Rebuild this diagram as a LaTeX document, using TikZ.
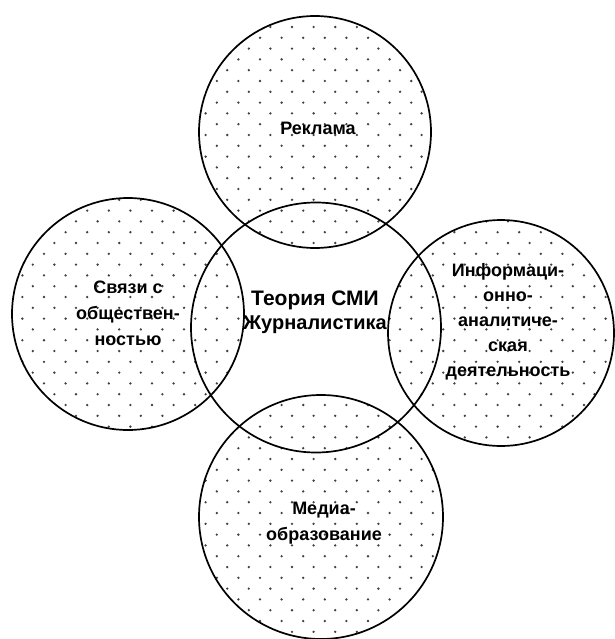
\documentclass[tikz,border=0pt]{standalone}
\usepackage{fontspec}
\setmainfont{Liberation Sans}
\tikzset{
  ring/.style={circle, draw=black, line width=1.7pt, inner sep=0pt, outer sep=0pt},
  dotc/.style={fill=black!75},
  outerlabel/.style={align=center, font=\bfseries\fontsize{18}{26}\selectfont, inner sep=0pt},
  mainlabel/.style={align=center, font=\bfseries\fontsize{21}{24}\selectfont, inner sep=0pt}
}
\newcommand\dotdisc[3]{%
  \begin{scope}
    \clip (#1,#2) circle[radius=#3pt];
    \pgfmathtruncatemacro\ia{(#2-#3-5.4)/10.8-1}
    \pgfmathtruncatemacro\ib{(#2+#3-5.4)/10.8+1}
    \pgfmathtruncatemacro\ja{(#1-#3)/21.6-1}
    \pgfmathtruncatemacro\jb{(#1+#3)/21.6+1}
    \foreach \i in {\ia,...,\ib}{
      \foreach \j in {\ja,...,\jb}{
        \pgfmathsetmacro\xx{\j*21.6+0.8+10.4*(1-mod(\i,2))}
        \pgfmathsetmacro\yy{5.4+\i*10.8}
        \fill[dotc] (\xx,\yy) circle[radius=1.3pt];
      }
    }
  \end{scope}}
\begin{document}
\begin{tikzpicture}[x=1pt,y=-1pt]
\useasboundingbox (0,0) rectangle (614,639);
% dotted fills of the outer circles
\dotdisc{315}{132}{116}
\dotdisc{128}{314}{116}
\dotdisc{501}{333}{113}
\dotdisc{321}{517}{122}
% outlines
\node[ring, minimum size=250pt] (c) at (316,327.5) {};
\node[ring, minimum size=232pt] (t) at (315,132) {};
\node[ring, minimum size=232pt] (l) at (128,314) {};
\node[ring, minimum size=226pt] (r) at (501,333) {};
\node[ring, minimum size=244pt] (b) at (321,517) {};
% labels
\node[mainlabel] (ct) at (315,312) {Теория СМИ\\\fontsize{20}{24}\selectfont Журналистика};
\node[outerlabel] (tt) at (318,128) {Реклама};
\node[outerlabel] (lt) at (128,313) {Связи с\\обществен-\\ностью};
\node[outerlabel, font=\bfseries\fontsize{18}{25}\selectfont] (rt) at (508,322) {Информаци-\\онно-\\аналитиче-\\ская\\деятельность};
\node[outerlabel] (bt) at (324,523) {Медиа-\\образование};
\end{tikzpicture}
\end{document}
